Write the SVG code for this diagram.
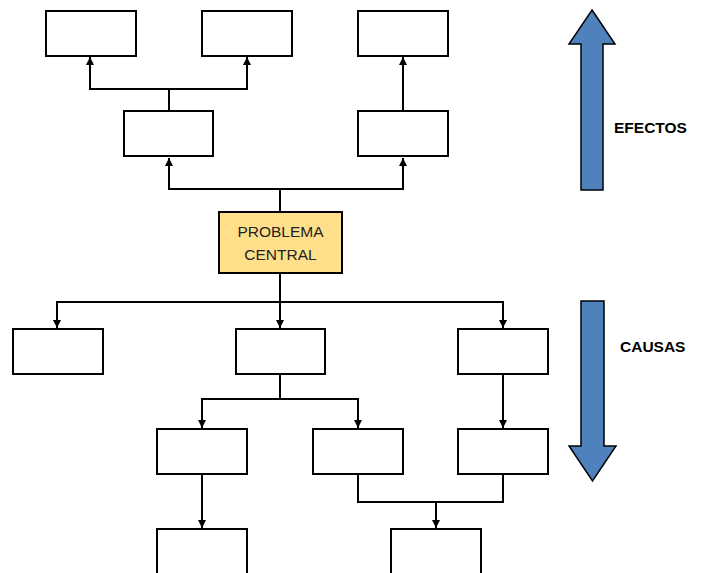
<svg xmlns="http://www.w3.org/2000/svg" width="702" height="573" viewBox="0 0 702 573">
<style>
.box{fill:#ffffff;stroke:#000;stroke-width:2}
.central{fill:#FFDF8A;stroke:#000;stroke-width:2}
.conn{fill:none;stroke:#000;stroke-width:2}
.big{fill:#4F81BD;stroke:#000;stroke-width:1.5;stroke-linejoin:miter}
.lbl{font-family:"Liberation Sans",Arial,sans-serif;font-size:15.5px;fill:#222}
.side{font-family:"Liberation Sans",Arial,sans-serif;font-size:15.5px;font-weight:bold;fill:#000}
</style>
<defs>
<marker id="arr" viewBox="0 0 8 8" refX="8" refY="4" markerWidth="8" markerHeight="8" markerUnits="userSpaceOnUse" orient="auto">
<path d="M0,0 L8,4 L0,8 z" fill="#000"/>
</marker>
</defs>
<rect width="702" height="573" fill="#ffffff"/>
<g id="connectors">
<path class="conn" d="M169,111 V89 H90 V57" marker-end="url(#arr)"/>
<path class="conn" d="M169,89 H247 V57" marker-end="url(#arr)"/>
<path class="conn" d="M403,111 V57" marker-end="url(#arr)"/>
<path class="conn" d="M280,212 V189 H169 V158" marker-end="url(#arr)"/>
<path class="conn" d="M280,189 H403 V158" marker-end="url(#arr)"/>
<path class="conn" d="M280,273 V302 H57 V328" marker-end="url(#arr)"/>
<path class="conn" d="M280,302 V328" marker-end="url(#arr)"/>
<path class="conn" d="M280,302 H503 V328" marker-end="url(#arr)"/>
<path class="conn" d="M280,374 V399 H202 V428" marker-end="url(#arr)"/>
<path class="conn" d="M280,399 H358 V428" marker-end="url(#arr)"/>
<path class="conn" d="M503,374 V428" marker-end="url(#arr)"/>
<path class="conn" d="M202,474 V528" marker-end="url(#arr)"/>
<path class="conn" d="M358,474 V502 H503 V474"/>
<path class="conn" d="M436,502 V528" marker-end="url(#arr)"/>
</g>
<g id="efecto1"><rect class="box" x="46" y="11" width="90" height="45"/></g>
<g id="efecto2"><rect class="box" x="202" y="11" width="90" height="45"/></g>
<g id="efecto3"><rect class="box" x="358" y="11" width="90" height="45"/></g>
<g id="efecto4"><rect class="box" x="124" y="111" width="89" height="45"/></g>
<g id="efecto5"><rect class="box" x="358" y="111" width="90" height="45"/></g>
<g id="problema-central">
<rect class="central" x="219" y="212" width="123" height="61"/>
<text class="lbl" x="280.5" y="237" text-anchor="middle">PROBLEMA</text>
<text class="lbl" x="280.5" y="260" text-anchor="middle">CENTRAL</text>
</g>
<g id="causa1"><rect class="box" x="13" y="329" width="90" height="45"/></g>
<g id="causa2"><rect class="box" x="236" y="329" width="89" height="45"/></g>
<g id="causa3"><rect class="box" x="458" y="329" width="90" height="45"/></g>
<g id="causa4"><rect class="box" x="157" y="429" width="90" height="45"/></g>
<g id="causa5"><rect class="box" x="313" y="429" width="90" height="45"/></g>
<g id="causa6"><rect class="box" x="458" y="429" width="90" height="45"/></g>
<g id="causa7"><rect class="box" x="157" y="529" width="90" height="60"/></g>
<g id="causa8"><rect class="box" x="391" y="529" width="90" height="60"/></g>
<g id="efectos-arrow">
<polygon class="big" points="592,10 615,44 603,44 603,190 581,190 581,44 569,44"/>
<text class="side" x="614" y="132.5">EFECTOS</text>
</g>
<g id="causas-arrow">
<polygon class="big" points="581,301 604,301 604,446 616,446 592.5,481 569,446 581,446"/>
<text class="side" x="620" y="351.5">CAUSAS</text>
</g>
</svg>
